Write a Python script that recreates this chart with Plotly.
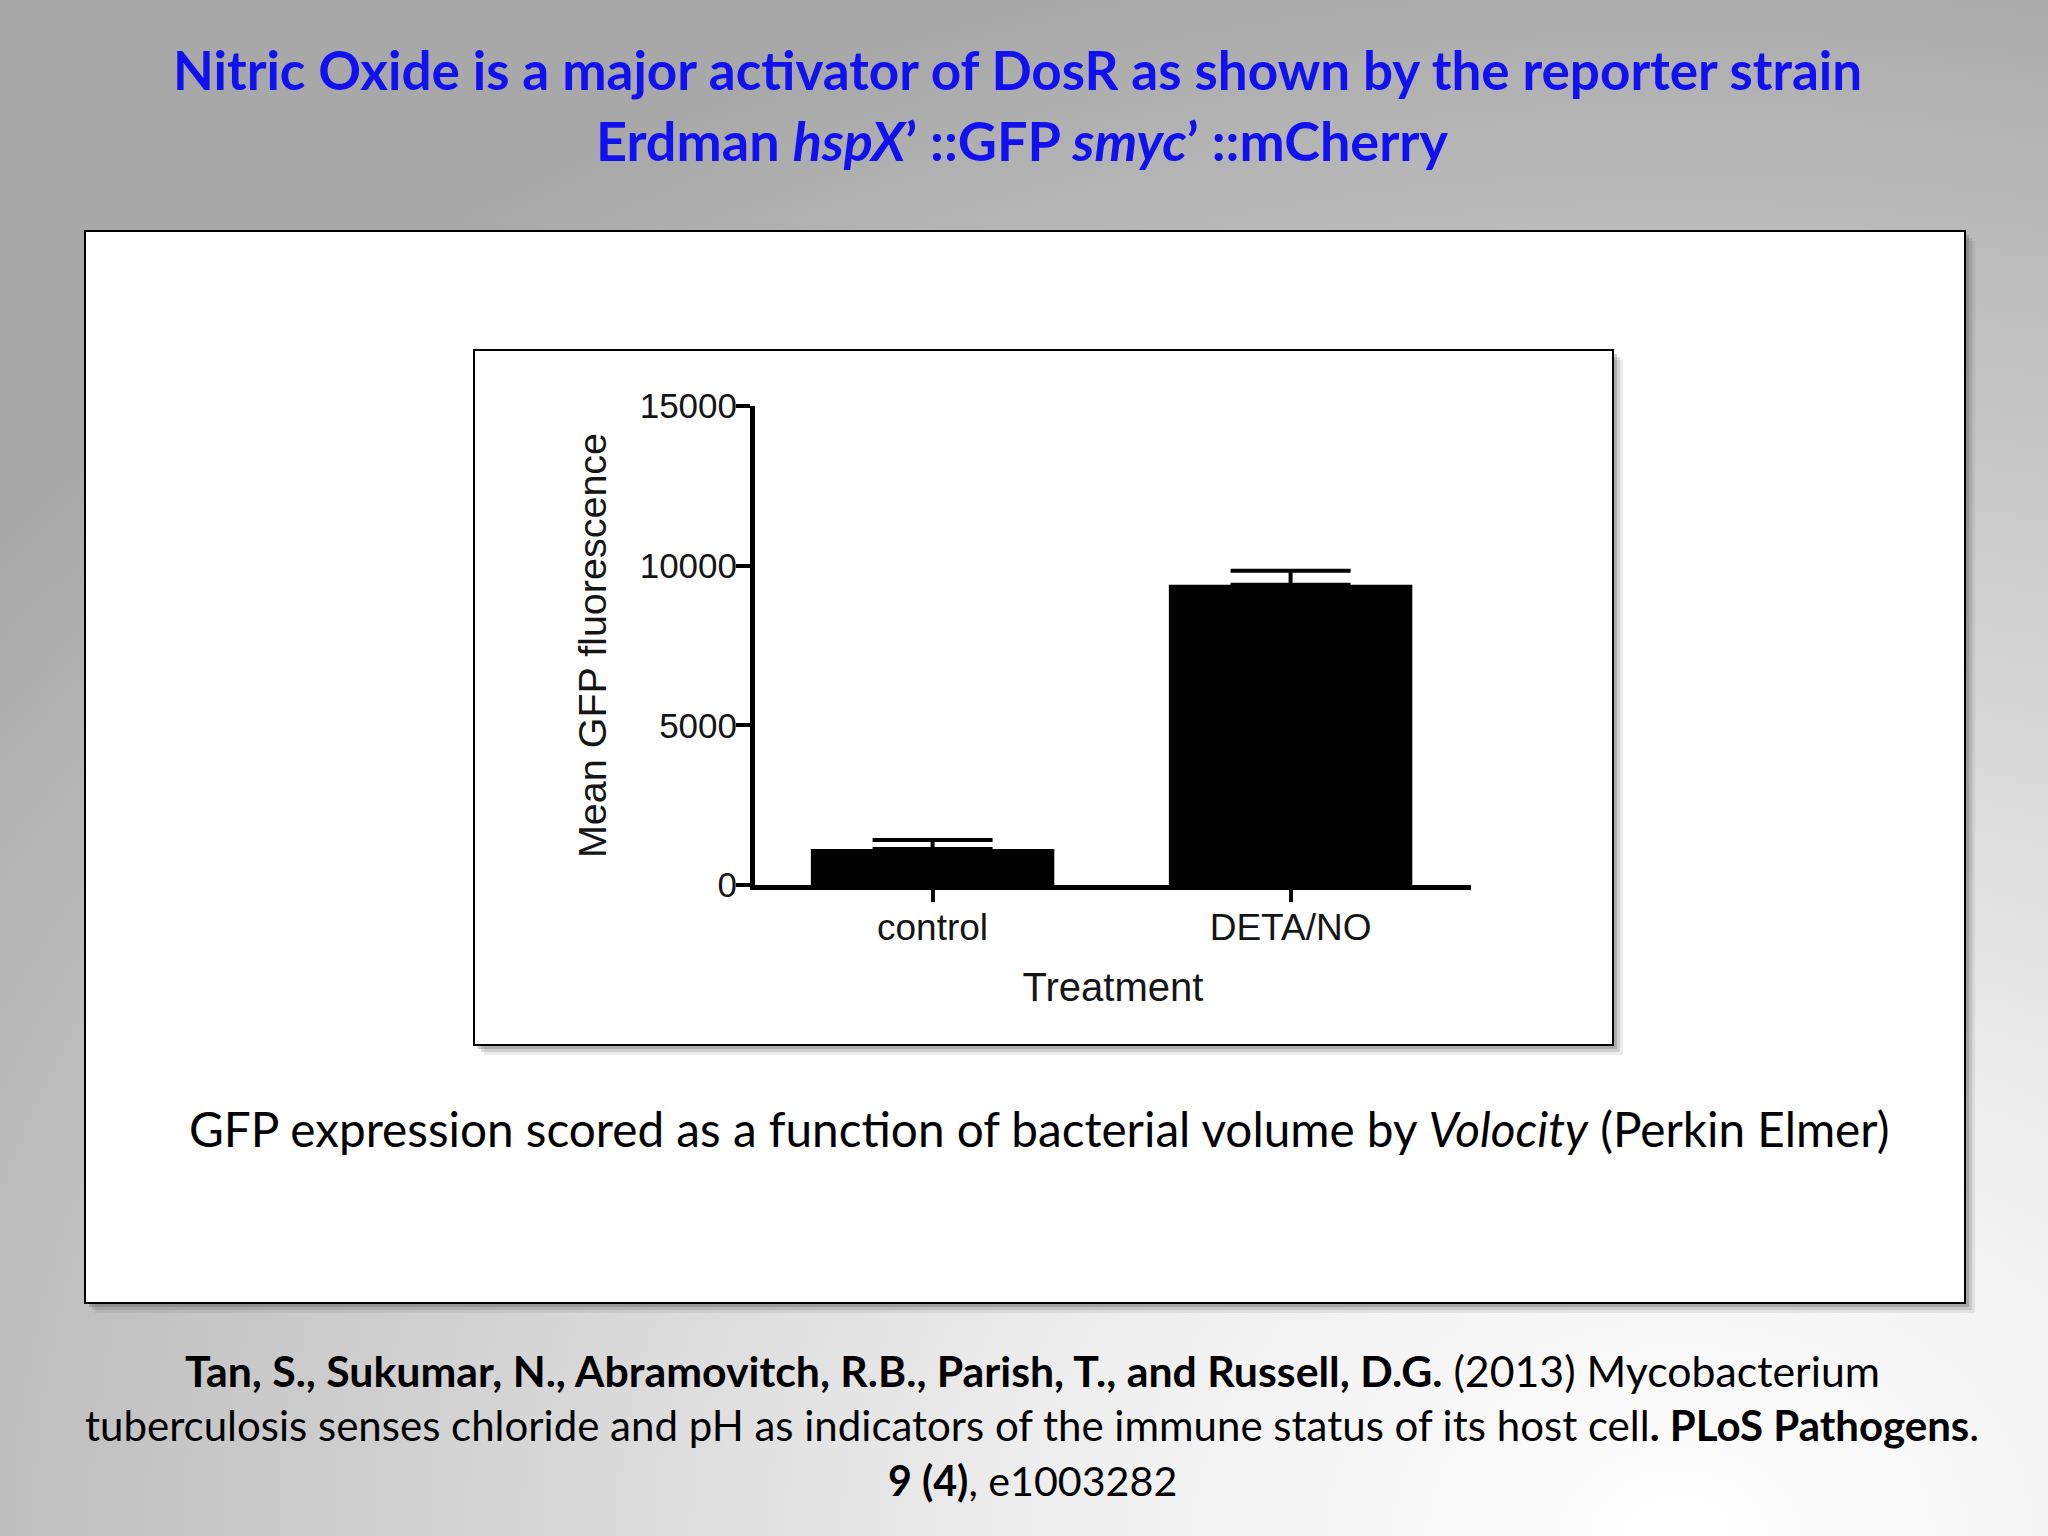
import base64
import plotly.graph_objects as go

# ---- data ----
categories = ["control", "DETA/NO"]
mean_gfp = [1130, 9400]
sem_gfp = [280, 440]
y_ticks = [0, 5000, 10000, 15000]
y_tick_labels = ["0", "5000", "10000", "15000"]

W, H = 2048, 1536


def px(x):
    return x / W


def py(y):
    return 1 - y / H


# background gradient as svg data uri
svg = (
    '<svg xmlns="http://www.w3.org/2000/svg" width="2048" height="1536">'
    '<defs><radialGradient id="g" cx="0.82" cy="1.0" r="1.05">'
    '<stop offset="0" stop-color="#ffffff"/>'
    '<stop offset="0.3" stop-color="#eeeeee"/>'
    '<stop offset="0.7" stop-color="#c6c6c6"/>'
    '<stop offset="1" stop-color="#a8a8a8"/>'
    '</radialGradient></defs>'
    '<rect width="2048" height="1536" fill="url(#g)"/></svg>'
)
bg_src = "data:image/svg+xml;base64," + base64.b64encode(svg.encode()).decode()

fig = go.Figure()
fig.add_trace(
    go.Bar(
        x=categories,
        y=mean_gfp,
        width=0.68,
        marker=dict(color="#000000", line=dict(width=0)),
        error_y=dict(
            type="data",
            symmetric=False,
            array=sem_gfp,
            arrayminus=[0, 0],
            color="#000000",
            thickness=4,
            width=60,
        ),
        showlegend=False,
    )
)


def box_with_shadow(x0, y0, x1, y1):
    shapes = []
    for off, op in [(10, 0.12), (7, 0.18), (4, 0.3)]:
        shapes.append(
            dict(
                type="rect", xref="paper", yref="paper", layer="below",
                x0=px(x0 + off), x1=px(x1 + off), y0=py(y0 + off), y1=py(y1 + off),
                fillcolor="rgba(90,90,90,%s)" % op, line=dict(width=0),
            )
        )
    shapes.append(
        dict(
            type="rect", xref="paper", yref="paper", layer="below",
            x0=px(x0), x1=px(x1), y0=py(y0), y1=py(y1),
            fillcolor="#ffffff", line=dict(color="#000000", width=2),
        )
    )
    return shapes


shapes = box_with_shadow(85, 231, 1965, 1303) + box_with_shadow(474, 350, 1613, 1045)

title_color = "#1010F0"

annotations = [
    dict(text="<b>Nitric Oxide is a major activator of DosR as shown by the reporter strain</b>",
         x=px(1017), y=py(70), font=dict(family="Lato", size=53, color=title_color)),
    dict(text="<b>Erdman <i>hspX</i>’ ::GFP <i>smyc</i>’ ::mCherry</b>",
         x=px(1022), y=py(140), font=dict(family="Lato", size=54, color=title_color)),
    dict(text="GFP expression scored as a function of bacterial volume by <i>Volocity</i> (Perkin Elmer)",
         x=px(1039), y=py(1128), font=dict(family="Lato", size=47.7, color="#000000")),
    dict(text="<b>Tan, S., Sukumar, N., Abramovitch, R.B., Parish, T., and Russell, D.G.</b> (2013) Mycobacterium",
         x=px(1032), y=py(1370), font=dict(family="Lato", size=42.8, color="#000000")),
    dict(text="tuberculosis senses chloride and pH as indicators of the immune status of its host cell<b>. PLoS Pathogens</b>.",
         x=px(1032), y=py(1425), font=dict(family="Lato", size=42, color="#000000")),
    dict(text="<b>9 (4)</b>, e1003282",
         x=px(1032), y=py(1480), font=dict(family="Lato", size=41.2, color="#000000")),
]
for a in annotations:
    a.update(xref="paper", yref="paper", showarrow=False, xanchor="center", yanchor="middle")

x_tick_font = dict(family="Liberation Sans", size=37, color="#151515")
y_tick_font = dict(family="Liberation Sans", size=35, color="#151515")

fig.update_layout(
    width=W,
    height=H,
    margin=dict(l=0, r=0, t=0, b=0, autoexpand=False),
    paper_bgcolor="#bbbbbb",
    plot_bgcolor="rgba(0,0,0,0)",
    shapes=shapes,
    annotations=annotations,
    images=[dict(source=bg_src, xref="paper", yref="paper", x=0, y=1, sizex=1, sizey=1,
                 sizing="stretch", xanchor="left", yanchor="top", layer="below")],
    xaxis=dict(
        domain=[px(755), px(1471)],
        range=[-0.496, 1.504],
        showline=True, linecolor="#000000", linewidth=5,
        ticks="outside", ticklen=12, tickwidth=4, tickcolor="#000000",
        ticklabelstandoff=-6,
        showgrid=False, zeroline=False,
        tickfont=x_tick_font,
        title=dict(text="Treatment",
                   font=dict(family="Liberation Sans", size=40, color="#151515"),
                   standoff=27),
    ),
    yaxis=dict(
        domain=[py(885), py(406)],
        range=[0, 15000],
        tickvals=y_ticks, ticktext=y_tick_labels,
        showline=True, linecolor="#000000", linewidth=5,
        ticks="outside", ticklen=14, tickwidth=4, tickcolor="#000000",
        ticklabelstandoff=-8,
        showgrid=False, zeroline=False,
        tickfont=y_tick_font,
        title=dict(text="Mean GFP fluorescence",
                   font=dict(family="Liberation Sans", size=39.5, color="#151515"),
                   standoff=22),
    ),
)

fig.write_html(
    "out.html",
    config={"displayModeBar": False},
    post_script="document.body.style.margin='0';document.body.style.padding='0';document.body.style.overflow='hidden';",
)
